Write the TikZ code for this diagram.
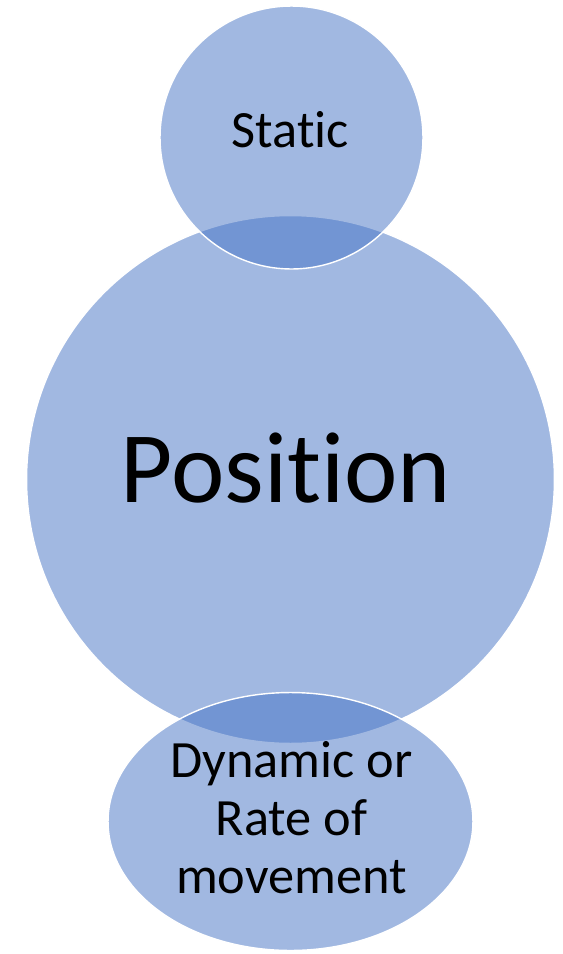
\documentclass[tikz,border=0pt]{standalone}
\usepackage{fontspec}
\setmainfont[Ligatures=NoCommon]{Carlito}
\usepackage{tikz}
\usetikzlibrary{shapes.geometric, positioning}
\usepackage{xcolor}
\definecolor{office}{HTML}{4472C4}
\tikzstyle{bubble}    = [draw=white, line width=0.8pt, fill=office, fill opacity=0.5, inner sep=0pt, outer sep=0pt]
\tikzstyle{small}     = [font=\fontsize{29.8}{33}\selectfont, align=center, anchor=base, inner sep=0pt]
\tikzstyle{big}       = [font=\fontsize{57.6}{60}\selectfont, anchor=base, inner sep=0pt]

\begin{document}
\begin{tikzpicture}[x=0.02cm, y=-0.02cm]
\useasboundingbox (0,0) rectangle (562,954);

% bubbles
\node[bubble, circle, minimum size=10.56cm]                    (position) at (290.5,479.5) {};
\node[bubble, circle, minimum size=5.26cm]                     (static)   at (291.5,137.5) {};
\node[bubble, ellipse, minimum width=7.3cm, minimum height=5.16cm] (dynamic)  at (290.5,821.5) {};

% texts (base = last line)
\node[small] (static text)   at (290.5,147) {Static};
\node[big]   (position text) at (286,502)   {Position};
\node[small] (dynamic text)  at (291.5,893) {Dynamic or\\Rate of\\movement};

\end{tikzpicture}
\end{document}
